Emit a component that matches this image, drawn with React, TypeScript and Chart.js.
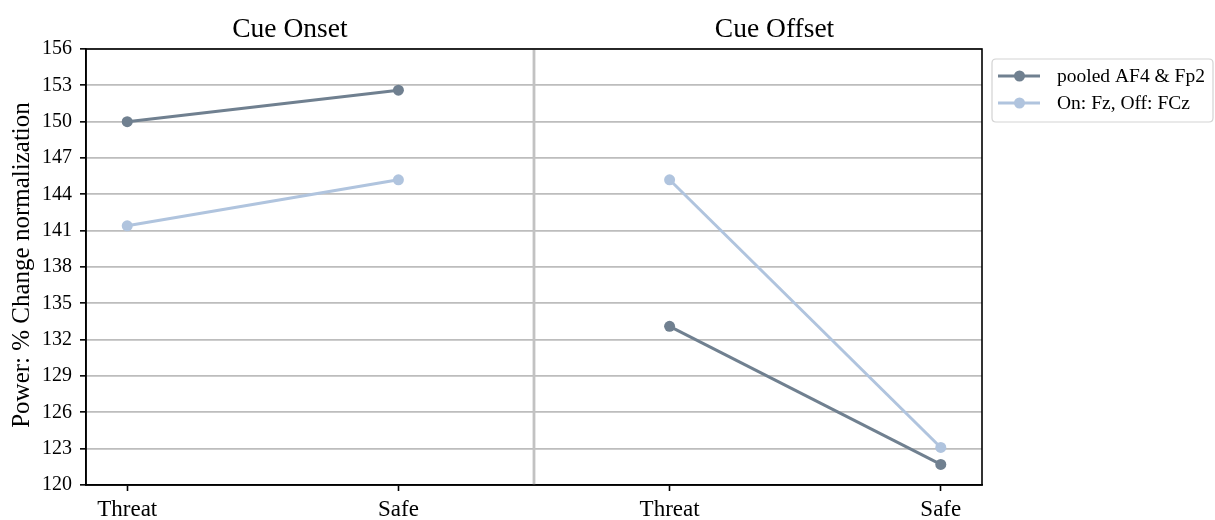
import React, { useEffect, useRef } from "react";
import { Chart, registerables } from "chart.js";

Chart.register(...registerables);

const categories = ["Threat", "Safe", "Threat", "Safe"];
const panelTitles = ["Cue Onset", "Cue Offset"];
const seriesLabels = ["pooled AF4 & Fp2", "On: Fz, Off: FCz"];
const pooledValues = [150.0, 152.6, 133.1, 121.7];
const channelValues = [141.4, 145.2, 145.2, 123.1];
const yTicks = [120, 123, 126, 129, 132, 135, 138, 141, 144, 147, 150, 153, 156];
const colors = ["#708090", "#b0c4de"];

const FONT = "'Liberation Serif', 'Times New Roman', serif";

export default function App() {
  const ref = useRef<HTMLCanvasElement | null>(null);

  useEffect(() => {
    const canvas = ref.current;
    if (!canvas) return;

    const toPoints = (vals: number[]) => vals.map((y, i) => ({ x: i, y }));

    const mkDataset = (label: string, vals: number[], color: string) => ({
      label,
      data: toPoints(vals),
      borderColor: color,
      backgroundColor: color,
      pointBackgroundColor: color,
      pointBorderColor: color,
      borderWidth: 3,
      pointRadius: 5.5,
      pointBorderWidth: 0,
      tension: 0,
      segment: {
        borderColor: (ctx: any) => (ctx.p0DataIndex === 1 ? "rgba(0,0,0,0)" : color),
      },
    });

    const decorPlugin = {
      id: "decor",
      beforeDatasetsDraw(chart: any) {
        const { ctx, chartArea } = chart;
        const xs = chart.scales.x;
        const sx = xs.getPixelForValue(1.5);
        ctx.save();
        ctx.strokeStyle = "#c2c2c2";
        ctx.lineWidth = 2.8;
        ctx.beginPath();
        ctx.moveTo(sx, chartArea.top);
        ctx.lineTo(sx, chartArea.bottom);
        ctx.stroke();
        ctx.restore();
      },
      afterDraw(chart: any) {
        const { ctx, chartArea } = chart;
        const xs = chart.scales.x;
        ctx.save();
        // frame
        ctx.strokeStyle = "#000";
        ctx.lineWidth = 1.6;
        ctx.strokeRect(chartArea.left, chartArea.top, chartArea.right - chartArea.left, chartArea.bottom - chartArea.top);

        // panel titles
        ctx.fillStyle = "#000";
        ctx.font = `27.5px ${FONT}`;
        ctx.textAlign = "center";
        ctx.textBaseline = "alphabetic";
        const onsetCenter = xs.getPixelForValue(0.6);
        const offsetCenter = xs.getPixelForValue(2.387);
        ctx.fillText(panelTitles[0], onsetCenter, 37);
        ctx.fillText(panelTitles[1], offsetCenter, 37);

        // y-axis title
        ctx.save();
        ctx.translate(29, (chartArea.top + chartArea.bottom) / 2 - 2);
        ctx.rotate(-Math.PI / 2);
        ctx.font = `25px ${FONT}`;
        ctx.textAlign = "center";
        ctx.textBaseline = "alphabetic";
        ctx.fillText("Power: % Change normalization", 0, 0);
        ctx.restore();

        // legend
        const bx = chartArea.right + 10;
        const by = 59;
        const bw = 221;
        const bh = 63;
        const r = 4;
        ctx.beginPath();
        ctx.moveTo(bx + r, by);
        ctx.lineTo(bx + bw - r, by);
        ctx.quadraticCurveTo(bx + bw, by, bx + bw, by + r);
        ctx.lineTo(bx + bw, by + bh - r);
        ctx.quadraticCurveTo(bx + bw, by + bh, bx + bw - r, by + bh);
        ctx.lineTo(bx + r, by + bh);
        ctx.quadraticCurveTo(bx, by + bh, bx, by + bh - r);
        ctx.lineTo(bx, by + r);
        ctx.quadraticCurveTo(bx, by, bx + r, by);
        ctx.closePath();
        ctx.fillStyle = "rgba(255,255,255,0.9)";
        ctx.fill();
        ctx.strokeStyle = "#d3d3d3";
        ctx.lineWidth = 1.2;
        ctx.stroke();

        const rows = [76, 103];
        chart.data.datasets.forEach((ds: any, i: number) => {
          const cy = rows[i];
          ctx.strokeStyle = colors[i];
          ctx.lineWidth = 3;
          ctx.beginPath();
          ctx.moveTo(bx + 6, cy);
          ctx.lineTo(bx + 48, cy);
          ctx.stroke();
          ctx.fillStyle = colors[i];
          ctx.beginPath();
          ctx.arc(bx + 27.5, cy, 5.5, 0, Math.PI * 2);
          ctx.fill();
          ctx.fillStyle = "#000";
          ctx.font = `19.5px ${FONT}`;
          ctx.textAlign = "left";
          ctx.textBaseline = "middle";
          ctx.fillText(ds.label, bx + 65, cy + 1);
        });
        ctx.restore();
      },
    };

    const chart = new Chart(canvas, {
      type: "line",
      data: {
        datasets: [
          mkDataset(seriesLabels[0], pooledValues, colors[0]),
          mkDataset(seriesLabels[1], channelValues, colors[1]),
        ],
      },
      options: {
        animation: false,
        responsive: false,
        devicePixelRatio: 1,
        layout: { padding: { top: 49, right: 233, left: 0, bottom: 0 } },
        plugins: {
          legend: { display: false },
          tooltip: { enabled: false },
          title: { display: false },
        },
        scales: {
          x: {
            type: "linear",
            min: -0.152,
            max: 3.152,
            afterBuildTicks: (scale: any) => {
              scale.ticks = categories.map((_, i) => ({ value: i }));
            },
            afterFit: (scale: any) => {
              scale.height = 35;
            },
            ticks: {
              autoSkip: false,
              maxRotation: 0,
              padding: 5,
              color: "#000",
              font: { family: FONT, size: 23 },
              callback: (v: any) => categories[Math.round(Number(v))] ?? "",
            },
            grid: {
              drawOnChartArea: false,
              drawTicks: true,
              tickLength: 6,
              tickColor: "#000",
              tickWidth: 1.6,
            },
            border: { display: true, color: "#000", width: 1.6 },
          },
          y: {
            type: "linear",
            min: yTicks[0],
            max: yTicks[yTicks.length - 1],
            afterBuildTicks: (scale: any) => {
              scale.ticks = yTicks.map((v) => ({ value: v }));
            },
            afterFit: (scale: any) => {
              scale.width = 86;
            },
            ticks: {
              padding: 8,
              color: "#000",
              font: { family: FONT, size: 20 },
              callback: (v: any) => String(v),
            },
            grid: {
              color: "#bdbdbd",
              lineWidth: 1.7,
              drawTicks: true,
              tickLength: 6,
              tickColor: "#000",
              tickWidth: 1.6,
            },
            border: { display: true, color: "#000", width: 1.6 },
          },
        },
      },
      plugins: [decorPlugin],
    });

    return () => chart.destroy();
  }, []);

  return (
    <div style={{ position: "absolute", left: 0, top: 0, width: 1215, height: 520, background: "#fff" }}>
      <canvas ref={ref} width={1215} height={520} style={{ display: "block", width: 1215, height: 520 }} />
    </div>
  );
}
